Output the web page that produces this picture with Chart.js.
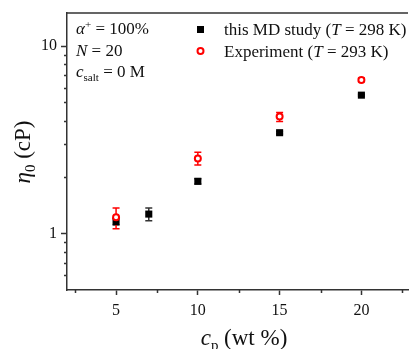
<!DOCTYPE html>
<html>
<head>
<meta charset="utf-8">
<script src="https://cdn.jsdelivr.net/npm/chart.js@4"></script>
<style>
  html, body { margin: 0; padding: 0; background: #fff; overflow: hidden; }
  #wrap { position: relative; width: 409px; height: 349px; overflow: hidden; }
</style>
</head>
<body>
<div id="wrap"><canvas id="chart" width="414" height="349"></canvas></div>
<script>
// values
const mdX = [5, 7, 10, 15, 20];
const mdY = [1.16, 1.27, 1.90, 3.45, 5.47];
const mdLo = [1.11, 1.17, 1.84, 3.40, 5.41];
const mdHi = [1.21, 1.37, 1.96, 3.50, 5.53];

const expX = [5, 10, 15, 20];
const expY = [1.22, 2.51, 4.21, 6.59];
const expLo = [1.06, 2.32, 3.96, 6.45];
const expHi = [1.37, 2.71, 4.42, 6.75];

const xTicks = [5, 10, 15, 20];
const xMinor = [2.5, 7.5, 12.5, 17.5, 22.5];
const yTicks = [1, 10];
const yMinor = [0.6, 0.7, 0.8, 0.9, 2, 3, 4, 5, 6, 7, 8, 9];

const SERIF = "'Liberation Serif', 'Times New Roman', serif";
const AXIS = "#333";

function font(size, italic) {
  return (italic ? "italic " : "") + size + "px " + SERIF;
}

// mixed text: [{t, it, sub, sup}]
function richWidth(ctx, parts, size) {
  let w = 0;
  for (const p of parts) {
    const s = p.sub || p.sup ? size * 0.65 : size;
    ctx.font = font(s, p.it);
    w += ctx.measureText(p.t).width;
  }
  return w;
}

function drawRich(ctx, x, y, parts, size, align) {
  if (align === "center") x -= richWidth(ctx, parts, size) / 2;
  ctx.textAlign = "left";
  ctx.textBaseline = "alphabetic";
  for (const p of parts) {
    const s = p.sub || p.sup ? size * 0.65 : size;
    ctx.font = font(s, p.it);
    let dy = 0;
    if (p.sub) dy = size * 0.22;
    if (p.sup) dy = -size * 0.38;
    ctx.fillText(p.t, x, y + dy);
    x += ctx.measureText(p.t).width;
  }
}

const decor = {
  id: "decor",
  beforeDatasetsDraw(chart) {
    const { ctx } = chart;
    const xs = chart.scales.x, ys = chart.scales.y;
    const bars = (xv, lo, hi, color) => {
      ctx.save();
      ctx.strokeStyle = color;
      ctx.lineWidth = 1.5;
      xv.forEach((v, i) => {
        const px = xs.getPixelForValue(v);
        const p1 = ys.getPixelForValue(lo[i]);
        const p2 = ys.getPixelForValue(hi[i]);
        ctx.beginPath();
        ctx.moveTo(px, p1); ctx.lineTo(px, p2);
        ctx.moveTo(px - 3.5, p1); ctx.lineTo(px + 3.5, p1);
        ctx.moveTo(px - 3.5, p2); ctx.lineTo(px + 3.5, p2);
        ctx.stroke();
      });
      ctx.restore();
    };
    bars(mdX, mdLo, mdHi, "#333");
    bars(expX, expLo, expHi, "#ff0000");
  },
  afterDraw(chart) {
    const { ctx, chartArea: a } = chart;
    const xs = chart.scales.x, ys = chart.scales.y;
    ctx.save();
    ctx.strokeStyle = AXIS;
    ctx.lineWidth = 1.5;
    ctx.beginPath();
    ctx.moveTo(a.left, a.top); ctx.lineTo(a.right, a.top);
    // minor ticks
    for (const v of xMinor) {
      const px = Math.round(xs.getPixelForValue(v)) + 0.5;
      ctx.moveTo(px, a.bottom); ctx.lineTo(px, a.bottom + 3);
    }
    for (const v of yMinor) {
      const py = Math.round(ys.getPixelForValue(v)) + 0.5;
      ctx.moveTo(a.left, py); ctx.lineTo(a.left - 3, py);
    }
    ctx.stroke();

    ctx.fillStyle = "#111";
    // annotation block
    drawRich(ctx, 76, 34, [{ t: "α", it: 1 }, { t: "+", sup: 1 }, { t: " = 100%" }], 17);
    drawRich(ctx, 76, 56, [{ t: "N", it: 1 }, { t: " = 20" }], 17);
    drawRich(ctx, 76, 77, [{ t: "c", it: 1 }, { t: "salt", sub: 1 }, { t: " = 0 M" }], 17);

    // legend
    ctx.fillStyle = "#000";
    ctx.fillRect(197, 26, 7, 7);
    ctx.beginPath();
    ctx.arc(200.5, 51, 3, 0, Math.PI * 2);
    ctx.strokeStyle = "#ff0000";
    ctx.lineWidth = 2;
    ctx.stroke();
    ctx.fillStyle = "#111";
    drawRich(ctx, 224, 35, [{ t: "this MD study (" }, { t: "T", it: 1 }, { t: " = 298 K)" }], 17);
    drawRich(ctx, 224, 57, [{ t: "Experiment (" }, { t: "T", it: 1 }, { t: " = 293 K)" }], 17);

    // axis titles
    drawRich(ctx, 244, 345, [{ t: "c", it: 1 }, { t: "p", sub: 1 }, { t: " (wt %)" }], 23, "center");
    ctx.translate(30, 152);
    ctx.rotate(-Math.PI / 2);
    drawRich(ctx, 0, 0, [{ t: "η", it: 1 }, { t: "0", sub: 1 }, { t: " (cP)" }], 23, "center");
    ctx.restore();
  }
};

new Chart(document.getElementById("chart"), {
  type: "scatter",
  data: {
    datasets: [
      {
        label: "Experiment (T = 293 K)",
        data: expX.map((x, i) => ({ x, y: expY[i] })),
        pointStyle: "circle",
        pointRadius: 3,
        pointBorderWidth: 2,
        borderColor: "#ff0000",
        backgroundColor: "#ffffff",
      },
      {
        label: "this MD study (T = 298 K)",
        data: mdX.map((x, i) => ({ x, y: mdY[i] })),
        pointStyle: "rect",
        pointRadius: 5,
        pointBorderWidth: 0,
        borderColor: "#000",
        backgroundColor: "#000",
      },
    ],
  },
  options: {
    responsive: false,
    animation: false,
    layout: { padding: { top: 13, right: 0, left: 0, bottom: 0 } },
    plugins: { legend: { display: false }, tooltip: { enabled: false } },
    scales: {
      x: {
        type: "linear",
        min: 2,
        max: 22.85,
        afterBuildTicks: (s) => { s.ticks = xTicks.map((v) => ({ value: v })); },
        afterFit: (s) => { s.height = 59; s.paddingLeft = 0; s.paddingRight = 0; },
        border: { display: true, color: AXIS, width: 1.5 },
        grid: { drawOnChartArea: false, drawTicks: true, tickLength: 5, tickColor: AXIS, tickWidth: 1.5 },
        ticks: { font: { family: SERIF, size: 16 }, color: "#111", padding: 6, maxRotation: 0 },
      },
      y: {
        type: "logarithmic",
        min: 0.5,
        max: 15,
        afterBuildTicks: (s) => { s.ticks = yTicks.map((v) => ({ value: v })); },
        afterFit: (s) => { s.width = 67; s.paddingTop = 0; s.paddingBottom = 0; },
        border: { display: true, color: AXIS, width: 1.5 },
        grid: { drawOnChartArea: false, drawTicks: true, tickLength: 6, tickColor: AXIS, tickWidth: 1.5 },
        ticks: { font: { family: SERIF, size: 16 }, color: "#111", padding: 4, callback: (v) => String(v) },
      },
    },
  },
  plugins: [decor],
});
</script>
</body>
</html>
